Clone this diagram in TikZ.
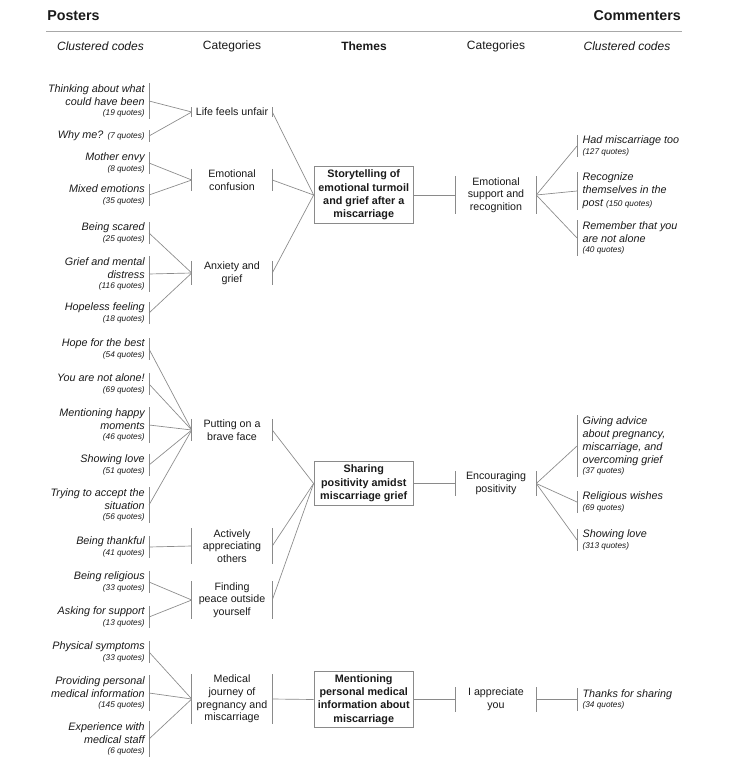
\documentclass[tikz,border=0pt]{standalone}
\usepackage{fontspec}
\setmainfont{Liberation Sans}
\definecolor{linegray}{HTML}{8A8A8A}
\definecolor{boxgray}{HTML}{8A8A8A}
\definecolor{rulegray}{HTML}{A8A8A8}
\definecolor{ink}{HTML}{1A1A1A}
\newcommand\qt[1]{{\fontsize{6.2}{7}\selectfont(#1 quotes)}}
\newcommand\qsp{\\[-1.6pt]}
\tikzset{
  lcode/.style={anchor=east, align=right, text=ink, font=\fontsize{8.1}{9.75}\selectfont\itshape, inner xsep=3pt, inner ysep=0.5pt},
  rcode/.style={anchor=west, align=left, text=ink, font=\fontsize{8.1}{9.75}\selectfont\itshape, inner xsep=4pt, inner ysep=0.5pt},
  cat/.style={align=center, text=ink, font=\fontsize{8}{9.5}\selectfont, minimum width=60pt, inner xsep=0pt, inner ysep=0.5pt},
  theme/.style={draw=boxgray, line width=0.6pt, align=center, text=ink, font=\fontsize{8.1}{10}\selectfont\bfseries, minimum width=74.6pt, inner xsep=0pt, inner ysep=2.5pt},
  link/.style={draw=linegray, line width=0.5pt},
  bar/.style={draw=linegray, line width=0.6pt},
  hdr/.style={text=ink, font=\fontsize{9}{11}\selectfont, inner sep=0pt},
  title/.style={text=ink, font=\fontsize{10.7}{13}\selectfont\bfseries, inner sep=0pt},
}
\begin{document}
\begin{tikzpicture}[x=0.75pt,y=-0.75pt]
\fill[white] (0,0) rectangle (733,766);
\useasboundingbox (0,0) rectangle (733,766);

% titles and headers
\node[title, anchor=west] (posters) at (47,16) {Posters};
\node[title, anchor=east] (commenters) at (681,16) {Commenters};
\coordinate (ruleL) at (46,31.5);
\coordinate (ruleR) at (682,31.5);
\draw[rulegray, line width=0.8pt] (ruleL) -- (ruleR);
\node[hdr, font=\fontsize{9}{11}\selectfont\itshape] (h1) at (100.5,46) {Clustered codes};
\node[hdr] (h2) at (232,46) {Categories};
\node[hdr, font=\fontsize{9}{11}\selectfont\bfseries] (h3) at (364,46) {Themes};
\node[hdr] (h4) at (496,46) {Categories};
\node[hdr, font=\fontsize{9}{11}\selectfont\itshape] (h5) at (627,46) {Clustered codes};

% left clustered codes
\node[lcode] (c1) at (149,101) {Thinking about what\\could have been\qsp\qt{19}};
\node[lcode] (c2) at (149,136) {Why me? \qt{7}};
\node[lcode] (c3) at (149,163) {Mother envy\qsp\qt{8}};
\node[lcode] (c4) at (149,195) {Mixed emotions\qsp\qt{35}};
\node[lcode] (c5) at (149,233) {Being scared\qsp\qt{25}};
\node[lcode] (c6) at (149,274) {Grief and mental\\distress\qsp\qt{116}};
\node[lcode] (c7) at (149,313) {Hopeless feeling\qsp\qt{18}};
\node[lcode] (c8) at (149,349) {Hope for the best\qsp\qt{54}};
\node[lcode] (c9) at (149,384) {You are not alone!\qsp\qt{69}};
\node[lcode] (c10) at (149,425) {Mentioning happy\\moments\qsp\qt{46}};
\node[lcode] (c11) at (149,465) {Showing love\qsp\qt{51}};
\node[lcode] (c12) at (149,505) {Trying to accept the\\situation\qsp\qt{56}};
\node[lcode] (c13) at (149,547) {Being thankful\qsp\qt{41}};
\node[lcode] (c14) at (149,582) {Being religious\qsp\qt{33}};
\node[lcode] (c15) at (149,617) {Asking for support\qsp\qt{13}};
\node[lcode] (c16) at (149,652) {Physical symptoms\qsp\qt{33}};
\node[lcode] (c17) at (149,693) {Providing personal\\medical information\qsp\qt{145}};
\node[lcode] (c18) at (149,739) {Experience with\\medical staff\qsp\qt{6}};
\foreach \n in {c1,c2,c3,c4,c5,c6,c7,c8,c9,c10,c11,c12,c13,c14,c15,c16,c17,c18}
  \draw[bar] (\n.north east) -- (\n.south east);

% left categories
\node[cat] (A) at (232,112) {Life feels unfair};
\node[cat] (B) at (232,180) {Emotional\\confusion};
\node[cat] (C) at (232,273) {Anxiety and\\grief};
\node[cat] (D) at (232,430) {Putting on a\\brave face};
\node[cat] (E) at (232,546) {Actively\\appreciating\\others};
\node[cat] (F) at (232,600) {Finding\\peace outside\\yourself};
\node[cat] (G) at (232,699) {Medical\\journey of\\pregnancy and\\miscarriage};

% themes
\node[theme] (T1) at (363.75,195) {Storytelling of\\emotional turmoil\\and grief after a\\miscarriage};
\node[theme] (T2) at (363.75,483.5) {Sharing\\positivity amidst\\miscarriage grief};
\node[theme] (T3) at (363.75,699.5) {Mentioning\\personal medical\\information about\\miscarriage};

% right categories
\node[cat] (R1) at (496,195) {Emotional\\support and\\recognition};
\node[cat] (R2) at (496,483.5) {Encouraging\\positivity};
\node[cat] (R3) at (496,699.5) {I appreciate\\you};

\foreach \n in {A,B,C,D,E,F,G,R1,R2,R3} {
  \draw[bar] (\n.north west) -- (\n.south west);
  \draw[bar] (\n.north east) -- (\n.south east);
}

% right clustered codes
\node[rcode] (k1) at (577,146) {Had miscarriage too\qsp\qt{127}};
\node[rcode] (k2) at (577,191) {Recognize\\themselves in the\\post \qt{150}};
\node[rcode] (k3) at (577,238) {Remember that you\\are not alone\qsp\qt{40}};
\node[rcode] (k4) at (577,446) {Giving advice\\about pregnancy,\\miscarriage, and\\overcoming grief\qsp\qt{37}};
\node[rcode] (k5) at (577,502) {Religious wishes\qsp\qt{69}};
\node[rcode] (k6) at (577,540) {Showing love\qsp\qt{313}};
\node[rcode] (k7) at (577,699.5) {Thanks for sharing\qsp\qt{34}};
\foreach \n in {k1,k2,k3,k4,k5,k6,k7}
  \draw[bar] (\n.north west) -- (\n.south west);

% connectors codes -> categories
\foreach \s/\t in {c1/A,c2/A,c3/B,c4/B,c5/C,c6/C,c7/C,c8/D,c9/D,c10/D,c11/D,c12/D,c13/E,c14/F,c15/F,c16/G,c17/G,c18/G}
  \draw[link] (\s.east) -- (\t.west);
% categories -> themes
\foreach \s/\t in {A/T1,B/T1,C/T1,D/T2,E/T2,F/T2,G/T3}
  \draw[link] (\s.east) -- (\t.west);
% themes -> right categories
\foreach \s/\t in {T1/R1,T2/R2,T3/R3}
  \draw[link] (\s.east) -- (\t.west);
% right categories -> codes
\foreach \s/\t in {R1/k1,R1/k2,R1/k3,R2/k4,R2/k5,R2/k6,R3/k7}
  \draw[link] (\s.east) -- (\t.west);
\end{tikzpicture}
\end{document}
